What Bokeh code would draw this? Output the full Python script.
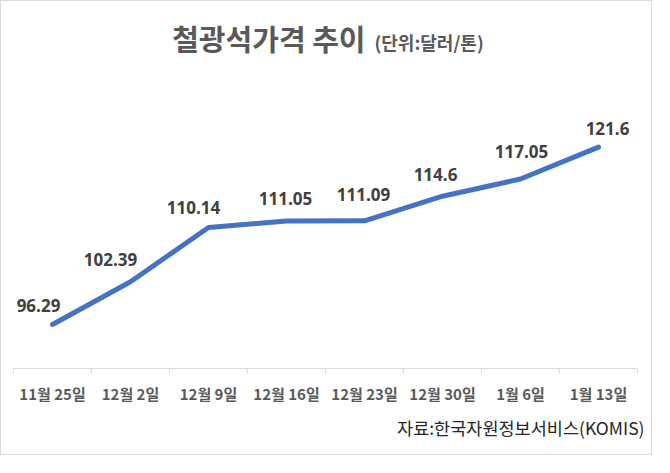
from bokeh.plotting import figure
from bokeh.models import ColumnDataSource, LabelSet, Label, FixedTicker, Range1d, Title
from bokeh.core.properties import value
from bokeh.embed import file_html
from bokeh.resources import INLINE

categories = ["11월 25일", "12월 2일", "12월 9일", "12월 16일", "12월 23일", "12월 30일", "1월 6일", "1월 13일"]
prices = [96.29, 102.39, 110.14, 111.05, 111.09, 114.6, 117.05, 121.6]
price_labels = ["96.29", "102.39", "110.14", "111.05", "111.09", "114.6", "117.05", "121.6"]

# label placement (style): pixel offsets of each value label from its point
label_dx = [-14, -20, -15, -1, -1, -7, 1, 9]
label_dy = [19, 22, 20, 23, 26, 22, 28, 19]

idx = list(range(len(categories)))
src = ColumnDataSource(dict(x=idx, y=prices, t=price_labels, dx=label_dx, dy=label_dy))

p = figure(width=652, height=455, output_backend="svg", toolbar_location=None,
           x_range=Range1d(-0.5, len(categories) - 0.5), y_range=Range1d(90, 142.4),
           y_axis_location=None, min_border_left=12, min_border_right=16,
           min_border_top=0, min_border_bottom=88)
p.styles = {"border": "1px solid #d9d9d9"}
p.outline_line_color = None
p.xgrid.visible = False
p.ygrid.visible = False
p.background_fill_color = "white"
p.border_fill_color = "white"

ax = p.xaxis[0]
ax.ticker = FixedTicker(ticks=idx, minor_ticks=[i - 0.5 for i in range(len(categories) + 1)])
ax.major_label_overrides = {i: c for i, c in enumerate(categories)}
ax.axis_line_color = "#d9d9d9"
ax.axis_line_width = 1
ax.major_tick_out = 0
ax.major_tick_in = 0
ax.minor_tick_out = 5
ax.minor_tick_in = 0
ax.minor_tick_line_color = "#d9d9d9"
ax.major_label_standoff = 9
ax.major_label_text_font = "Noto Sans CJK KR"
ax.major_label_text_font_style = "bold"
ax.major_label_text_font_size = "15px"
ax.major_label_text_color = "#595959"

p.line("x", "y", source=src, line_width=5, line_color="#4472C4", line_cap="round", line_join="round")

labels = LabelSet(x="x", y="y", text="t", source=src, x_offset="dx", y_offset="dy",
                  text_align="center", text_baseline="middle",
                  text_font=value("Open Sans"), text_font_style="bold", text_font_size="17px",
                  text_color="#404040")
p.add_layout(labels)

title_main = Label(x=352, y=331, x_units="screen", y_units="screen", text="철광석가격 추이",
                   text_align="right", text_baseline="middle", text_font="Noto Sans CJK KR",
                   text_font_style="bold", text_font_size="29px", text_color="#595959")
title_sub = Label(x=361, y=327, x_units="screen", y_units="screen", text="(단위:달러/톤)",
                  text_align="left", text_baseline="middle", text_font="Noto Sans CJK KR",
                  text_font_style="bold", text_font_size="18px", text_color="#595959")
p.add_layout(title_main)
p.add_layout(title_sub)

source_note = Title(text="자료:한국자원정보서비스(KOMIS)", align="right", offset=-7, standoff=13,
                    text_font="Noto Sans CJK KR", text_font_style="normal",
                    text_font_size="17.5px", text_color="#262626")
p.add_layout(source_note, "below")

open("out.html", "w").write(file_html(p, INLINE))
